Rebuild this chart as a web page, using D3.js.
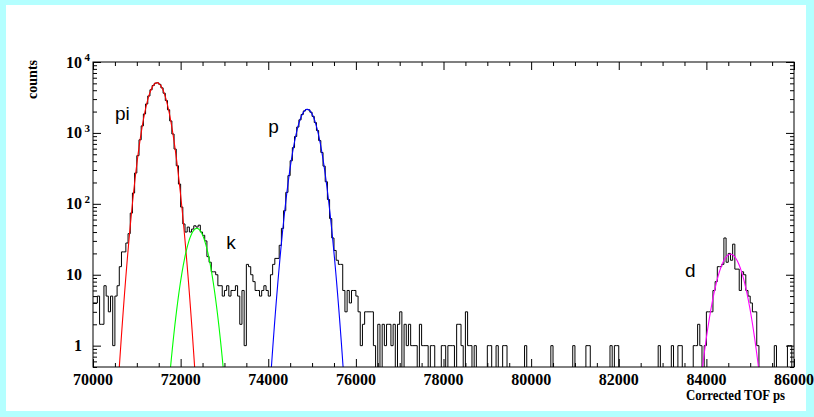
<!DOCTYPE html>
<html>
<head>
<meta charset="utf-8">
<script src="https://cdn.jsdelivr.net/npm/d3@7"></script>
<style>
  html, body { margin: 0; padding: 0; background: #b4ffff; }
  svg { display: block; }
</style>
</head>
<body>
<svg id="chart" width="814" height="417"></svg>
<script>
// histogram: 320 bins of 50 ps from 70000 to 86000
const binStart = 70000;
const binWidth = 50;
const counts = [
  4, 4, 5, 2, 2, 7, 5, 3, 5, 1, 5, 7, 13, 21, 21, 28, 38, 74, 142, 272,
  478, 800, 1255, 1850, 2560, 3320, 4060, 4660, 5020, 5090, 4840, 4320, 3630, 2860, 2120, 1475, 965, 592, 345, 190,
  90, 52, 40, 47, 40, 44, 49, 47, 50, 40, 36, 30, 18, 15, 11, 11, 10, 7, 7, 5,
  6, 7, 5, 6, 6, 7, 5, 2, 6, 1, 14, 13, 10, 8, 6, 6, 5, 6, 7, 6,
  5, 10, 14, 17, 17, 26, 45, 80, 145, 250, 405, 620, 890, 1210, 1530, 1820, 2040, 2140, 2120, 1960,
  1710, 1400, 1080, 780, 530, 340, 205, 115, 62, 33, 22, 16, 14, 14, 6, 3, 6, 4, 6, 6,
  5, 3, 1, 2, 3, 3, 3, 3, 1, 0, 2, 0, 2, 1, 2, 2, 1, 2, 0, 2,
  3, 0, 2, 1, 2, 1, 1, 1, 0, 2, 1, 1, 1, 0, 1, 1, 0, 0, 0, 1,
  1, 0, 1, 1, 1, 0, 2, 2, 1, 0, 3, 1, 1, 0, 1, 0, 0, 0, 0, 0,
  1, 1, 0, 0, 1, 0, 0, 1, 1, 0, 0, 0, 0, 0, 0, 0, 0, 1, 0, 0,
  0, 0, 0, 0, 0, 0, 0, 0, 0, 1, 0, 0, 0, 0, 0, 0, 0, 0, 0, 1,
  0, 0, 0, 0, 0, 1, 1, 0, 0, 0, 0, 0, 0, 0, 0, 0, 1, 0, 1, 1,
  0, 0, 0, 0, 0, 0, 0, 0, 0, 0, 0, 0, 0, 0, 0, 0, 0, 0, 1, 0,
  0, 0, 0, 0, 1, 0, 0, 1, 1, 0, 0, 0, 0, 0, 1, 1, 2, 1, 0, 1,
  3, 3, 3, 6, 8, 13, 13, 14, 33, 15, 20, 16, 27, 12, 12, 6, 11, 10, 6, 5,
  4, 3, 3, 1, 0, 0, 0, 0, 0, 0, 0, 1, 0, 0, 0, 0, 0, 1, 1, 0,
];

// gaussian fits, one per particle
const fitNames = ['pi', 'k', 'p', 'd'];
const fitAmplitude = [5100, 45, 2150, 19.5];
const fitMean = [71460, 72370, 74890, 84550];
const fitSigma = [200, 200, 200, 236];

// particle tags, in data coordinates (ps, counts)
const tagText = ['pi', 'p', 'k', 'd'];
const tagX = [70500, 74000, 73040, 83510];
const tagY = [1525, 1000, 23, 9.4];

const xMajorTicks = [70000, 72000, 74000, 76000, 78000, 80000, 82000, 84000, 86000];
const yDecades = [1, 10, 100, 1000, 10000];
const yExponents = ['', '', '2', '3', '4'];

function colorForFit(name) {
  const palette = { pi: '#ff0000', k: '#00ff00', p: '#0000ff', d: '#ff00ff' };
  return palette[name] || '#000000';
}

const width = 814;
const height = 417;
const frame = { left: 93, right: 794, top: 62, bottom: 367 };
const serif = "'Liberation Serif', 'Times New Roman', serif";
const sans = "'Liberation Sans', Arial, sans-serif";

const x = d3.scaleLinear().domain([70000, 86000]).range([frame.left, frame.right]);
const y = d3.scaleLog().domain([0.5, 10000]).range([frame.bottom, frame.top]);

const svg = d3.select('#chart');

svg.append('rect')
  .attr('width', width).attr('height', height)
  .attr('fill', '#b4ffff');
svg.append('rect')
  .attr('x', 6).attr('y', 5)
  .attr('width', 800).attr('height', 406)
  .attr('fill', '#ffffff');

svg.append('clipPath').attr('id', 'frame-clip')
  .append('rect')
  .attr('x', frame.left).attr('y', frame.top)
  .attr('width', frame.right - frame.left)
  .attr('height', frame.bottom - frame.top);

const plot = svg.append('g').attr('clip-path', 'url(#frame-clip)');

// histogram as steps; empty bins fall to the bottom of the frame
const steps = [];
counts.forEach((c, i) => {
  const lo = binStart + i * binWidth;
  steps.push([lo, c], [lo + binWidth, c]);
});
const yOf = (c) => (c > 0 ? y(c) : frame.bottom + 2);

plot.append('path')
  .datum(steps)
  .attr('fill', 'none')
  .attr('stroke', '#000')
  .attr('stroke-width', 1)
  .attr('d', d3.line().x((d) => x(d[0])).y((d) => yOf(d[1])));

// fit curves
const curve = d3.line().x((d) => x(d[0])).y((d) => y(d[1]));
fitNames.forEach((name, j) => {
  const pts = [];
  const lo = fitMean[j] - 4.5 * fitSigma[j];
  const hi = fitMean[j] + 4.5 * fitSigma[j];
  for (let t = lo; t <= hi; t += 10) {
    const z = (t - fitMean[j]) / fitSigma[j];
    pts.push([t, fitAmplitude[j] * Math.exp(-0.5 * z * z)]);
  }
  plot.append('path')
    .datum(pts)
    .attr('fill', 'none')
    .attr('stroke', colorForFit(name))
    .attr('stroke-width', 1.1)
    .attr('d', curve);
});

// frame
svg.append('rect')
  .attr('x', frame.left).attr('y', frame.top)
  .attr('width', frame.right - frame.left)
  .attr('height', frame.bottom - frame.top)
  .attr('fill', 'none')
  .attr('stroke', '#000')
  .attr('stroke-width', 1);

// ticks on all four sides, pointing inward
const xMinorTicks = d3.range(70000, 86001, 500).filter((v) => !xMajorTicks.includes(v));
const yMinorTicks = [];
for (const dec of [0.1, 1, 10, 100, 1000]) {
  for (let k = 2; k <= 9; k++) {
    const v = k * dec;
    if (v >= 0.5 && v <= 10000) yMinorTicks.push(v);
  }
}

function tickGroup(axis, transform) {
  const g = svg.append('g').attr('transform', transform).call(axis);
  g.select('.domain').remove();
  g.selectAll('.tick line').attr('stroke', '#000').attr('stroke-width', 1);
  return g;
}

const majorLen = 8;
const minorLen = 4;
tickGroup(d3.axisBottom(x).tickValues(xMajorTicks).tickSizeInner(-majorLen).tickSizeOuter(0).tickFormat(''), `translate(0,${frame.bottom})`);
tickGroup(d3.axisBottom(x).tickValues(xMinorTicks).tickSizeInner(-minorLen).tickSizeOuter(0).tickFormat(''), `translate(0,${frame.bottom})`);
tickGroup(d3.axisTop(x).tickValues(xMajorTicks).tickSizeInner(-majorLen).tickSizeOuter(0).tickFormat(''), `translate(0,${frame.top})`);
tickGroup(d3.axisTop(x).tickValues(xMinorTicks).tickSizeInner(-minorLen).tickSizeOuter(0).tickFormat(''), `translate(0,${frame.top})`);
tickGroup(d3.axisLeft(y).tickValues(yDecades).tickSizeInner(-majorLen).tickSizeOuter(0).tickFormat(''), `translate(${frame.left},0)`);
tickGroup(d3.axisLeft(y).tickValues(yMinorTicks).tickSizeInner(-minorLen).tickSizeOuter(0).tickFormat(''), `translate(${frame.left},0)`);
tickGroup(d3.axisRight(y).tickValues(yDecades).tickSizeInner(-majorLen).tickSizeOuter(0).tickFormat(''), `translate(${frame.right},0)`);
tickGroup(d3.axisRight(y).tickValues(yMinorTicks).tickSizeInner(-minorLen).tickSizeOuter(0).tickFormat(''), `translate(${frame.right},0)`);

// x labels
svg.append('g')
  .selectAll('text')
  .data(xMajorTicks)
  .join('text')
  .attr('x', (d) => x(d))
  .attr('y', frame.bottom + 18)
  .attr('text-anchor', 'middle')
  .attr('font-family', serif)
  .attr('font-weight', 'bold')
  .attr('font-size', 16)
  .text((d) => d);

// y labels: 1, 10, 10^2 ...
const yLab = svg.append('g');
yLab.selectAll('text.base')
  .data(yDecades)
  .join('text')
  .attr('class', 'base')
  .attr('x', 82)
  .attr('y', (d) => y(d) + 5.5)
  .attr('text-anchor', 'end')
  .attr('font-family', serif)
  .attr('font-weight', 'bold')
  .attr('font-size', 16)
  .text((d) => (d === 1 ? '1' : '10'));
yLab.selectAll('text.exp')
  .data(yDecades)
  .join('text')
  .attr('class', 'exp')
  .attr('x', 84.5)
  .attr('y', (d) => y(d) - 1)
  .attr('font-family', serif)
  .attr('font-weight', 'bold')
  .attr('font-size', 11)
  .text((d, i) => yExponents[i]);

// axis titles
svg.append('text')
  .attr('transform', 'translate(37,60) rotate(-90)')
  .attr('text-anchor', 'end')
  .attr('font-family', serif)
  .attr('font-weight', 'bold')
  .attr('font-size', 14)
  .text('counts');

svg.append('text')
  .attr('x', 686)
  .attr('y', 400)
  .attr('textLength', 99)
  .attr('lengthAdjust', 'spacingAndGlyphs')
  .attr('font-family', serif)
  .attr('font-weight', 'bold')
  .attr('font-size', 15)
  .text('Corrected TOF ps');

// particle tags
svg.append('g')
  .selectAll('text')
  .data(tagText)
  .join('text')
  .attr('x', (d, i) => x(tagX[i]))
  .attr('y', (d, i) => y(tagY[i]))
  .attr('font-family', sans)
  .attr('font-size', 19)
  .text((d) => d);
</script>
</body>
</html>
